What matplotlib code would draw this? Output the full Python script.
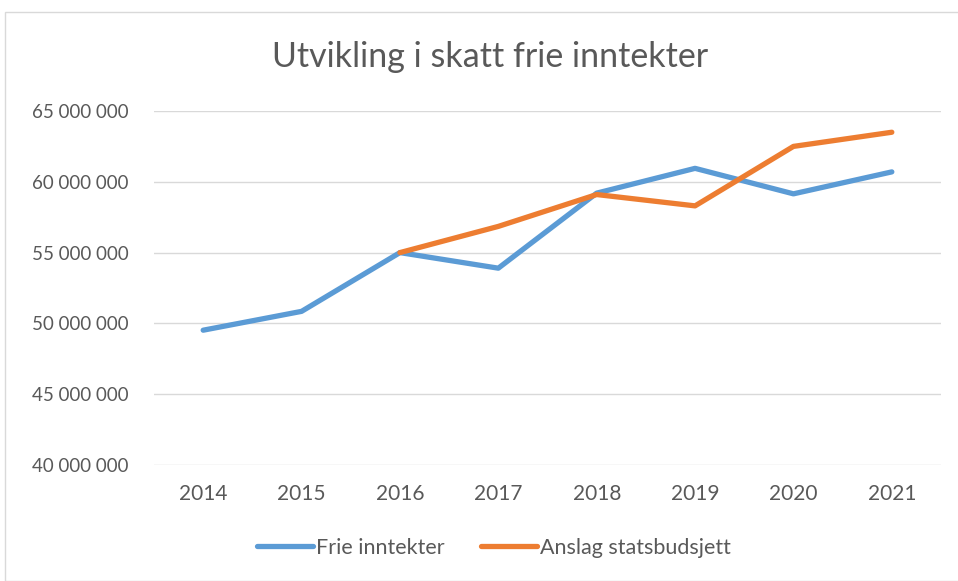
import matplotlib
matplotlib.use("Agg")
import matplotlib.pyplot as plt
from matplotlib.ticker import FuncFormatter, MultipleLocator
from matplotlib.patches import Rectangle

years = ["2014", "2015", "2016", "2017", "2018", "2019", "2020", "2021"]
frie_inntekter = [49.52e6, 50.85e6, 55.0e6, 53.9e6, 59.2e6, 60.95e6, 59.15e6, 60.7e6]
anslag_years = ["2016", "2017", "2018", "2019", "2020", "2021"]
anslag_statsbudsjett = [55.0e6, 56.85e6, 59.1e6, 58.3e6, 62.5e6, 63.5e6]

title = "Utvikling i skatt frie inntekter"
font = ["Lato", "DejaVu Sans"]
txt = "#595959"

W, H = 958, 581
fig = plt.figure(figsize=(W / 100, H / 100), dpi=100)
fig.patch.set_facecolor("white")

# outer chart border
fig.patches.append(Rectangle((5 / W, 0), 1.2, 1 - 12 / H, transform=fig.transFigure,
                             fill=False, edgecolor="#D9D9D9", linewidth=1.0))

ax = fig.add_axes([154 / W, 1 - 465 / H, (941 - 154) / W, (465 - 111) / H])
xi = list(range(len(years)))
ax.plot(xi, frie_inntekter, color="#5B9BD5", lw=3.8, solid_capstyle="round",
        solid_joinstyle="round", label="Frie inntekter", zorder=3)
ax_idx = [years.index(y) for y in anslag_years]
ax.plot(ax_idx, anslag_statsbudsjett, color="#ED7D31", lw=3.8, solid_capstyle="round",
        solid_joinstyle="round", label="Anslag statsbudsjett", zorder=3)

ax.set_xlim(-0.5, len(years) - 0.5)
ax.set_ylim(40e6, 65e6)
ax.yaxis.set_major_locator(MultipleLocator(5e6))
ax.yaxis.set_major_formatter(FuncFormatter(lambda v, p: f"{int(v):,}".replace(",", " ")))
ax.set_xticks(xi)
ax.set_xticklabels(years)
ax.grid(axis="y", color="#D9D9D9", lw=1.0)
ax.set_axisbelow(True)
for s in ax.spines.values():
    s.set_visible(False)
ax.tick_params(axis="y", length=0, labelsize=13.5, labelcolor=txt, pad=18)
ax.tick_params(axis="x", length=0, labelsize=15, labelcolor=txt, pad=14)
for lab in ax.get_xticklabels() + ax.get_yticklabels():
    lab.set_family(font)

fig.text(490 / W, 1 - 57 / H, title, ha="center", va="center", fontsize=24.5,
         color=txt, family=font)

leg = fig.legend(loc="center", bbox_to_anchor=(494 / W, 1 - 548 / H), ncol=2,
                 frameon=False, handlelength=2.6, handletextpad=0.15, columnspacing=1.7,
                 prop={"family": font, "size": 15.5})
for t in leg.get_texts():
    t.set_color(txt)

fig.savefig("out.png", dpi=100)
